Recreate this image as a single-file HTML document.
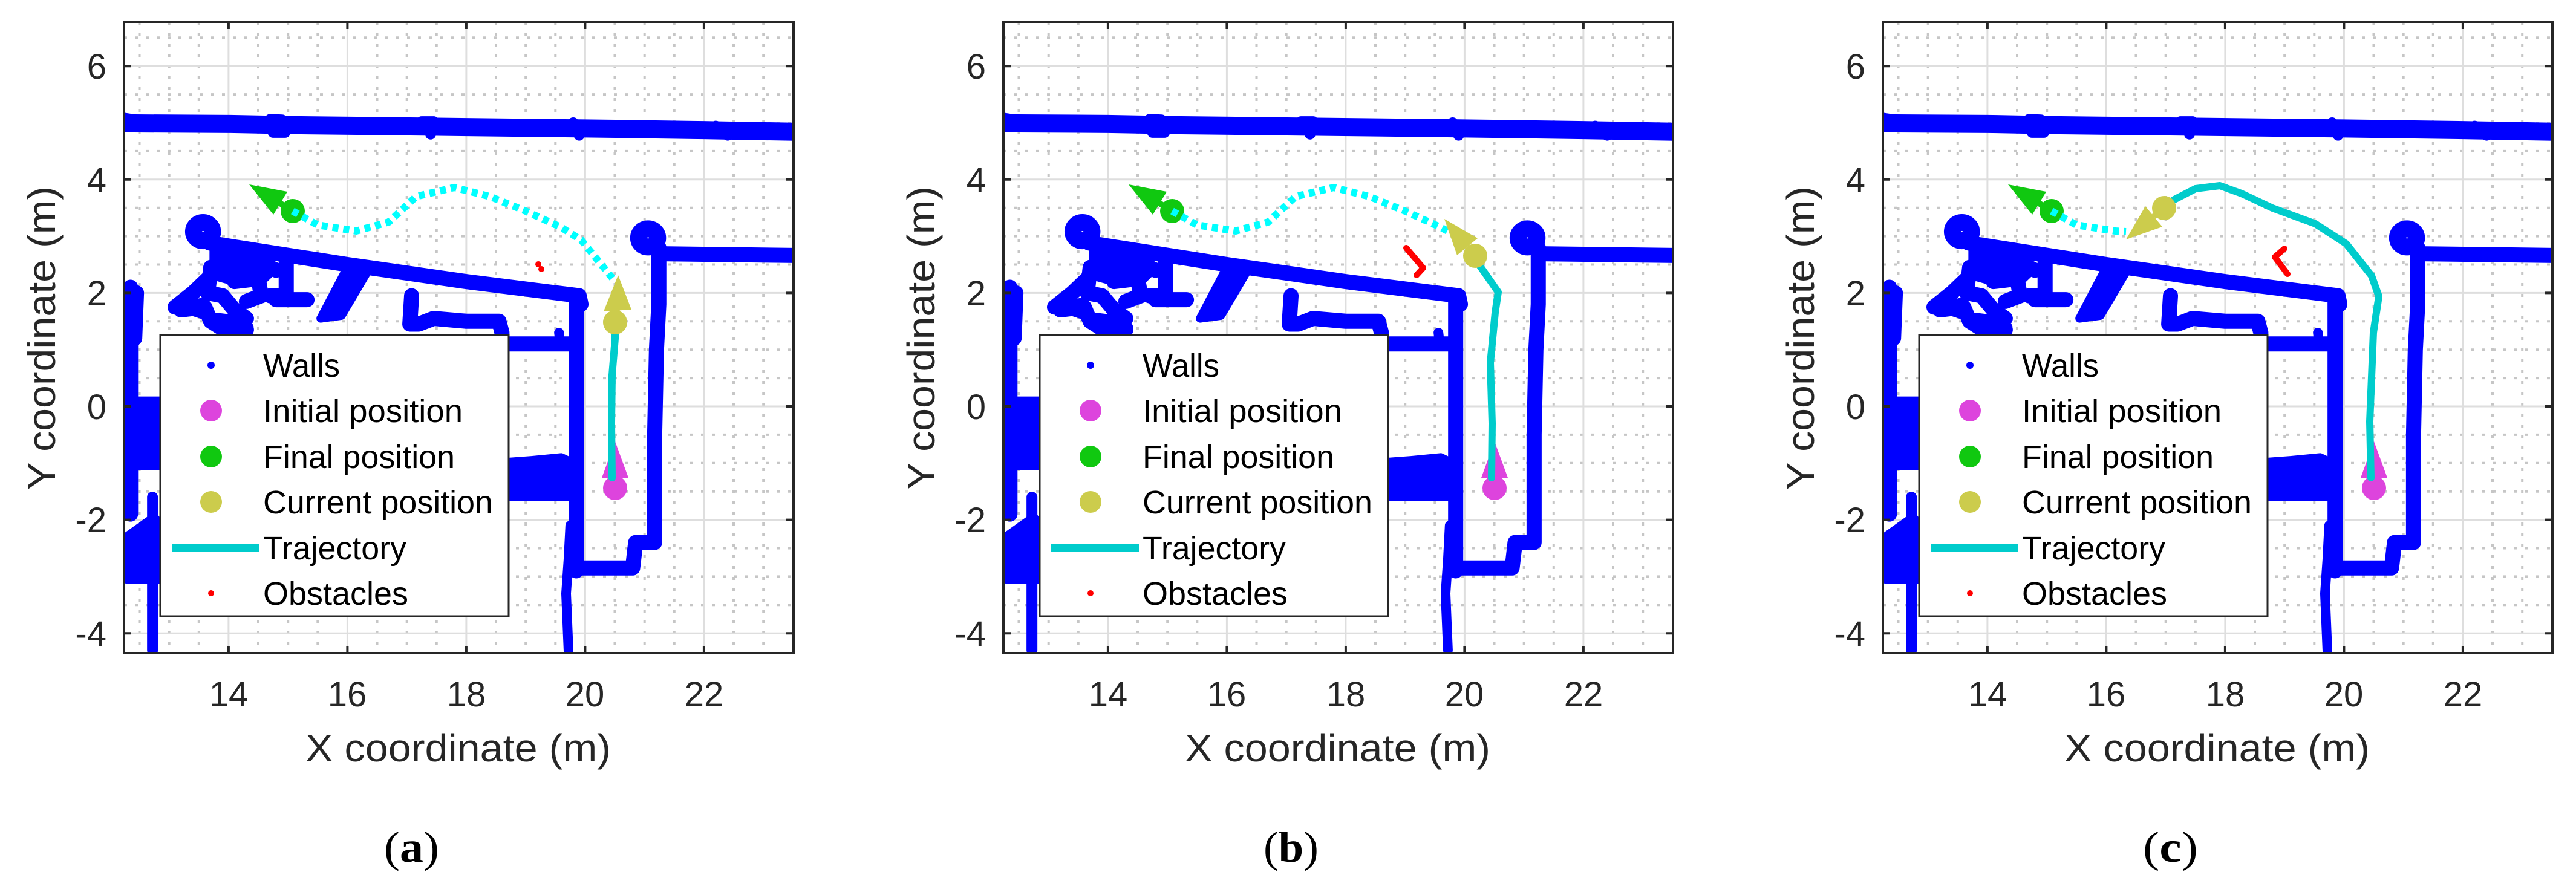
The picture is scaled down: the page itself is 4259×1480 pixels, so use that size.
<!DOCTYPE html>
<html><head><meta charset="utf-8"><style>
html,body{margin:0;padding:0;background:#fff;}
svg{display:block;}
.w{fill:none;stroke:#0000ff;stroke-width:25;stroke-linecap:round;stroke-linejoin:round;}
.wf{fill:#0000ff;stroke:#0000ff;stroke-width:14;stroke-linejoin:round;}
.ns{vector-effect:non-scaling-stroke;}
.tk{font-family:"Liberation Sans",Arial,sans-serif;font-size:58px;fill:#262626;}
.lg{font-family:"Liberation Sans",Arial,sans-serif;font-size:54px;fill:#000;}
.ax{font-family:"Liberation Sans",Arial,sans-serif;font-size:64px;fill:#262626;}
.cap{font-family:"Liberation Serif","Times New Roman",serif;font-size:72px;fill:#000;}
</style></head><body>
<svg width="4259" height="1480" viewBox="0 0 4259 1480" xmlns="http://www.w3.org/2000/svg">
<defs>
<clipPath id="clip"><rect x="205" y="36" width="1107" height="1044"/></clipPath>
<g id="base">
 <g stroke="#c6c6c6" stroke-width="4" stroke-dasharray="5 13">
  <path d="M230.5 36V1080M279.7 36V1080M328.8 36V1080M427 36V1080M476.2 36V1080M525.3 36V1080M623.5 36V1080M672.7 36V1080M721.8 36V1080M820 36V1080M869.2 36V1080M918.3 36V1080M1016.5 36V1080M1065.7 36V1080M1114.8 36V1080M1213 36V1080M1262.2 36V1080"/>
  <path d="M205 62.3H1312M205 156.1H1312M205 203H1312M205 249.9H1312M205 343.7H1312M205 390.6H1312M205 437.5H1312M205 531.3H1312M205 578.2H1312M205 625.1H1312M205 718.9H1312M205 765.8H1312M205 812.7H1312M205 906.5H1312M205 953.4H1312M205 1000.3H1312"/>
 </g>
 <g stroke="#dedede" stroke-width="3">
  <path d="M377.9 36V1080M574.4 36V1080M770.9 36V1080M967.4 36V1080M1163.9 36V1080"/>
  <path d="M205 109.2H1312M205 296.8H1312M205 484.4H1312M205 672H1312M205 859.6H1312M205 1047.2H1312"/>
 </g>
 <g clip-path="url(#clip)">
 <g transform="translate(205 36) scale(98.25 -93.8) translate(-12.24 -6.78)">
  <polyline class="w ns" style="stroke-width:30" points="12.2,4.99 14,4.98 15,4.96 17.5,4.93 20,4.9 22,4.87 23.6,4.84"/>
  <polyline class="w ns" style="stroke-width:18" points="12.25,5.08 12.5,5.04"/>
  <polyline class="w ns" style="stroke-width:18" points="14.7,5.06 14.9,5.05"/>
  <polyline class="w ns" style="stroke-width:18" points="14.75,4.83 14.95,4.83"/>
  <polyline class="w ns" style="stroke-width:18" points="17.25,5.02 17.45,5.02 17.4,4.8"/>
  <polyline class="w ns" style="stroke-width:18" points="19.8,5.0 19.9,4.78"/>
  <polyline class="w ns" style="stroke-width:18" points="22.2,4.94 22.4,4.78"/>
  <polyline class="w ns" points="12.35,2.1 12.35,-1.9"/>
  <polyline class="w ns" points="12.45,2.0 12.42,1.2"/>
  <polygon class="wf ns" points="12.28,0.1 12.85,0.1 12.85,-1.05 12.28,-1.05"/>
  <polygon class="wf ns" points="12.28,-2.3 12.75,-1.95 12.85,-2.1 12.85,-3.05 12.28,-3.05"/>
  <polyline class="w ns" style="stroke-width:18" points="12.72,-1.6 12.72,-4.3"/>
  <ellipse class="w ns" style="stroke-width:28" cx="13.57" cy="3.08" rx="0.16" ry="0.16"/>
  <polyline class="w ns" points="13.68,2.88 16,2.5 18,2.2 19.9,1.95 19.93,1.8"/>
  <polygon class="wf ns" points="13.75,2.75 14.3,2.6 14.8,2.45 14.6,2.25 14.1,2.2 13.75,2.3"/>
  <polygon class="wf ns" points="13.15,1.75 13.6,1.85 13.7,1.5 14.0,1.3 14.35,1.4 14.0,1.55 13.6,1.6"/>
  <polyline class="w ns" points="13.1,1.75 13.4,2.0 13.7,2.3 13.9,2.5 14.1,2.6 14.5,2.55 14.8,2.4"/>
  <polyline class="w ns" points="13.7,2.45 13.65,2.0 13.9,1.95 14.1,1.7 14.3,1.55"/>
  <polyline class="w ns" points="13.2,1.7 13.6,1.75 13.7,1.5 14.0,1.3 14.3,1.35"/>
  <polyline class="w ns" points="14.1,2.2 14.5,2.25 14.55,1.95 14.3,1.85"/>
  <polyline class="w ns" points="14.97,2.55 14.97,1.95 14.7,1.95"/>
  <polyline class="w ns" points="14.8,1.88 15.32,1.88"/>
  <polyline class="w ns" style="stroke-width:16" points="14.4,1.93 14.42,1.9"/>
  <polygon class="wf ns" points="15.55,1.55 15.9,1.6 16.35,2.4 16.0,2.45"/>
  <polyline class="w ns" points="17.08,1.95 17.05,1.45 17.2,1.45 17.45,1.55 18.0,1.5 18.55,1.5 18.6,1.3 18.6,1.15"/>
  <polyline class="w ns" points="18.6,1.1 19.83,1.1"/>
  <polyline class="w ns" points="19.85,1.95 19.85,-2.9"/>
  <polyline class="w ns" style="stroke-width:16" points="19.56,1.3 19.58,1.12"/>
  <polyline class="w ns" points="18.5,-1.5 19.85,-1.5"/>
  <polygon class="wf ns" points="18.72,-0.98 19.1,-0.95 19.6,-0.9 19.8,-1.0 19.8,-1.6 18.72,-1.6"/>
  <polyline class="w ns" style="stroke-width:16" points="19.75,-2.1 19.72,-2.7 19.68,-3.3 19.7,-3.8 19.72,-4.3"/>
  <polyline class="w ns" points="19.85,-2.85 20.8,-2.85 20.85,-2.4 21.17,-2.4 21.17,-0.5 21.2,1.0 21.24,1.8 21.24,2.8"/>
  <ellipse class="w ns" style="stroke-width:28" cx="21.06" cy="2.97" rx="0.16" ry="0.16"/>
  <polyline class="w ns" points="21.3,2.69 23.6,2.66"/>
 </g>
 </g>
 <line x1="1017" y1="807" x2="1017" y2="785" stroke="#dd44dd" stroke-width="10"/>
 <polygon points="1017,730 995,790 1039,790" fill="#dd44dd"/>
 <circle cx="1017" cy="807" r="20" fill="#dd44dd"/>
 <line x1="484" y1="349" x2="463" y2="336" stroke="#10c810" stroke-width="10"/>
 <polygon points="412,305 475,317 452,355" fill="#10c810"/>
 <circle cx="484" cy="349" r="20" fill="#10c810"/>
</g>
<g id="frame">
 <rect x="205" y="36" width="1107" height="1044" fill="none" stroke="#262626" stroke-width="4"/>
 <g stroke="#262626" stroke-width="4">
  <path d="M377.9 1080V1068M574.4 1080V1068M770.9 1080V1068M967.4 1080V1068M1163.9 1080V1068"/>
  <path d="M377.9 36V48M574.4 36V48M770.9 36V48M967.4 36V48M1163.9 36V48"/>
  <path d="M205 109.2H217M205 296.8H217M205 484.4H217M205 672H217M205 859.6H217M205 1047.2H217"/>
  <path d="M1312 109.2H1300M1312 296.8H1300M1312 484.4H1300M1312 672H1300M1312 859.6H1300M1312 1047.2H1300"/>
 </g>
 <rect x="265" y="554" width="576" height="465" fill="#fff" stroke="#262626" stroke-width="3"/>
 <circle cx="349" cy="604" r="6" fill="#0000ff"/>
 <circle cx="349" cy="679" r="18" fill="#dd44dd"/>
 <circle cx="349" cy="755" r="18" fill="#10c810"/>
 <circle cx="349" cy="830" r="18" fill="#cccc4c"/>
 <line x1="284" y1="906" x2="429" y2="906" stroke="#00cccc" stroke-width="12"/>
 <circle cx="349" cy="981" r="5" fill="#ff0000"/>
</g>
</defs>

<g transform="translate(0 0)">
 <use href="#base"/>
 <polyline points="484,349 525,372 589,382 643,367 688,325 751,310 810,325 869,349 928,376 961,397 1015,463" fill="none" stroke="#00ffff" stroke-width="12" stroke-dasharray="10 8"/>
 <polyline points="1012,790 1011,700 1012,620 1017,560 1017,533" fill="none" stroke="#00cccc" stroke-width="12" stroke-linecap="round" stroke-linejoin="round"/>
 <line x1="1017" y1="533" x2="1020" y2="512" stroke="#cccc4c" stroke-width="10"/>
 <polygon points="1022,455 998,515 1044,512" fill="#cccc4c"/>
 <circle cx="1017" cy="533" r="20" fill="#cccc4c"/>
 <circle cx="890" cy="437" r="5" fill="#ff0000"/>
 <circle cx="895" cy="445" r="5" fill="#ff0000"/>
 <use href="#frame"/>
</g>
<g transform="translate(1454 0)">
 <use href="#base"/>
 <polyline points="484,349 525,372 589,382 643,367 688,325 751,310 810,325 869,349 928,376 945,385" fill="none" stroke="#00ffff" stroke-width="12" stroke-dasharray="10 8"/>
 <polyline points="1012,790 1013,700 1010,600 1018,517 1023,483 993,440 985,423" fill="none" stroke="#00cccc" stroke-width="12" stroke-linecap="round" stroke-linejoin="round"/>
 <polyline points="871,410 899,443 888,455" fill="none" stroke="#ff0000" stroke-width="10" stroke-linecap="round" stroke-linejoin="round"/>
 <line x1="985" y1="423" x2="972" y2="408" stroke="#cccc4c" stroke-width="10"/>
 <polygon points="934,362 989,394 955,422" fill="#cccc4c"/>
 <circle cx="985" cy="423" r="20" fill="#cccc4c"/>
 <use href="#frame"/>
</g>
<g transform="translate(2908 0)">
 <use href="#base"/>
 <polyline points="484,349 525,372 589,382 607,383" fill="none" stroke="#00ffff" stroke-width="12" stroke-dasharray="10 8"/>
 <polyline points="1012,790 1010,697 1016,550 1025,490 1013,456 971,403 920,370 849,344 798,320 762,307 722,312 685,331 670,344" fill="none" stroke="#00cccc" stroke-width="12" stroke-linecap="round" stroke-linejoin="round"/>
 <polyline points="869,411 853,425 874,453" fill="none" stroke="#ff0000" stroke-width="10" stroke-linecap="round" stroke-linejoin="round"/>
 <line x1="670" y1="344" x2="653" y2="358" stroke="#cccc4c" stroke-width="10"/>
 <polygon points="607,396 667,375 639,341" fill="#cccc4c"/>
 <circle cx="670" cy="344" r="20" fill="#cccc4c"/>
 <use href="#frame"/>
</g>

<g>
 <g class="tk" text-anchor="end">
  <text x="176" y="130">6</text><text x="176" y="318">4</text><text x="176" y="505">2</text><text x="176" y="693">0</text><text x="176" y="880">-2</text><text x="176" y="1068">-4</text>
 </g>
 <g class="tk" text-anchor="middle">
  <text x="378" y="1168">14</text><text x="574" y="1168">16</text><text x="771" y="1168">18</text><text x="967" y="1168">20</text><text x="1164" y="1168">22</text>
 </g>
 <text class="ax" x="505" y="1259" textLength="505" lengthAdjust="spacingAndGlyphs">X coordinate (m)</text>
 <text class="ax" transform="translate(91 810) rotate(-90)" x="0" y="0" textLength="502" lengthAdjust="spacingAndGlyphs">Y coordinate (m)</text>
 <g class="lg">
  <text x="435" y="623" textLength="127" lengthAdjust="spacingAndGlyphs">Walls</text>
  <text x="435" y="698" textLength="330" lengthAdjust="spacingAndGlyphs">Initial position</text>
  <text x="435" y="774" textLength="317" lengthAdjust="spacingAndGlyphs">Final position</text>
  <text x="435" y="849" textLength="380" lengthAdjust="spacingAndGlyphs">Current position</text>
  <text x="435" y="925" textLength="237" lengthAdjust="spacingAndGlyphs">Trajectory</text>
  <text x="435" y="1000" textLength="240" lengthAdjust="spacingAndGlyphs">Obstacles</text>
 </g>
 <text class="cap" x="635" y="1425" textLength="91" lengthAdjust="spacingAndGlyphs">(<tspan font-weight="bold">a</tspan>)</text>
</g>
<g transform="translate(1454 0)">
 <g class="tk" text-anchor="end">
  <text x="176" y="130">6</text><text x="176" y="318">4</text><text x="176" y="505">2</text><text x="176" y="693">0</text><text x="176" y="880">-2</text><text x="176" y="1068">-4</text>
 </g>
 <g class="tk" text-anchor="middle">
  <text x="378" y="1168">14</text><text x="574" y="1168">16</text><text x="771" y="1168">18</text><text x="967" y="1168">20</text><text x="1164" y="1168">22</text>
 </g>
 <text class="ax" x="505" y="1259" textLength="505" lengthAdjust="spacingAndGlyphs">X coordinate (m)</text>
 <text class="ax" transform="translate(91 810) rotate(-90)" x="0" y="0" textLength="502" lengthAdjust="spacingAndGlyphs">Y coordinate (m)</text>
 <g class="lg">
  <text x="435" y="623" textLength="127" lengthAdjust="spacingAndGlyphs">Walls</text>
  <text x="435" y="698" textLength="330" lengthAdjust="spacingAndGlyphs">Initial position</text>
  <text x="435" y="774" textLength="317" lengthAdjust="spacingAndGlyphs">Final position</text>
  <text x="435" y="849" textLength="380" lengthAdjust="spacingAndGlyphs">Current position</text>
  <text x="435" y="925" textLength="237" lengthAdjust="spacingAndGlyphs">Trajectory</text>
  <text x="435" y="1000" textLength="240" lengthAdjust="spacingAndGlyphs">Obstacles</text>
 </g>
 <text class="cap" x="635" y="1425" textLength="91" lengthAdjust="spacingAndGlyphs">(<tspan font-weight="bold">b</tspan>)</text>
</g>
<g transform="translate(2908 0)">
 <g class="tk" text-anchor="end">
  <text x="176" y="130">6</text><text x="176" y="318">4</text><text x="176" y="505">2</text><text x="176" y="693">0</text><text x="176" y="880">-2</text><text x="176" y="1068">-4</text>
 </g>
 <g class="tk" text-anchor="middle">
  <text x="378" y="1168">14</text><text x="574" y="1168">16</text><text x="771" y="1168">18</text><text x="967" y="1168">20</text><text x="1164" y="1168">22</text>
 </g>
 <text class="ax" x="505" y="1259" textLength="505" lengthAdjust="spacingAndGlyphs">X coordinate (m)</text>
 <text class="ax" transform="translate(91 810) rotate(-90)" x="0" y="0" textLength="502" lengthAdjust="spacingAndGlyphs">Y coordinate (m)</text>
 <g class="lg">
  <text x="435" y="623" textLength="127" lengthAdjust="spacingAndGlyphs">Walls</text>
  <text x="435" y="698" textLength="330" lengthAdjust="spacingAndGlyphs">Initial position</text>
  <text x="435" y="774" textLength="317" lengthAdjust="spacingAndGlyphs">Final position</text>
  <text x="435" y="849" textLength="380" lengthAdjust="spacingAndGlyphs">Current position</text>
  <text x="435" y="925" textLength="237" lengthAdjust="spacingAndGlyphs">Trajectory</text>
  <text x="435" y="1000" textLength="240" lengthAdjust="spacingAndGlyphs">Obstacles</text>
 </g>
 <text class="cap" x="635" y="1425" textLength="91" lengthAdjust="spacingAndGlyphs">(<tspan font-weight="bold">c</tspan>)</text>
</g>
</svg>
</body></html>
